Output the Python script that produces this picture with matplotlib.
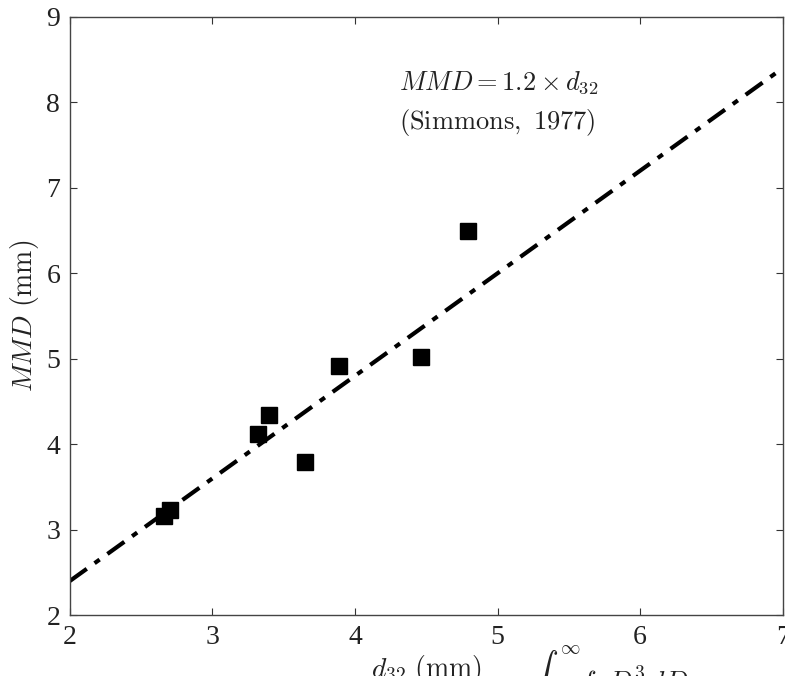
import numpy as np
import matplotlib.pyplot as plt

# measured points (d32 vs MMD, mm)
d32 = [2.66, 2.70, 3.32, 3.40, 3.65, 3.89, 4.46, 4.79]
mmd = [3.16, 3.23, 4.12, 4.34, 3.79, 4.91, 5.02, 6.49]

# correlation line MMD = 1.2 * d32
fit_coef = 1.2
fit_x = [2, 7]

plt.rcParams['font.family'] = ['Liberation Serif', 'DejaVu Serif']
plt.rcParams['mathtext.fontset'] = 'cm'

fig = plt.figure(figsize=(7.85, 6.76), dpi=100)
ax = fig.add_axes([0.089, 0.090, 0.908, 0.885])

fx = np.array(fit_x)
ax.plot(fx, fit_coef * fx, color='black', lw=3, ls=(0, (5, 2.3, 1.5, 2.3)))
ax.plot(d32, mmd, 's', color='black', ms=11)

ax.set_xlim(2, 7)
ax.set_ylim(2, 9)
ax.set_xticks(range(2, 8))
ax.set_yticks(range(2, 10))
ax.tick_params(direction='in', top=True, right=True, length=5, width=0.8,
               labelsize=20, colors='#333333', labelcolor='#222222', pad=7)
for s in ax.spines.values():
    s.set_color('#444444')
    s.set_linewidth(1.0)

ax.text(4.31, 8.23, r'$MMD = 1.2 \times d_{32}$', fontsize=19, va='center', color='#222222')
ax.text(4.31, 7.77, r'$\mathrm{(Simmons,\ 1977)}$', fontsize=19, va='center', color='#222222')

ax.set_ylabel(r'$MMD\ \mathrm{(mm)}$', fontsize=20, color='#222222', labelpad=4)
ax.set_xlabel(r'$d_{32}\ \mathrm{(mm)}$', fontsize=20, color='#222222', labelpad=2)

# fragment of the caption below, cut off by the frame
fig.text(0.675, 0.047, r'$\int_{0}^{\infty} f_v\, D^3\, dD$', fontsize=20, va='top', color='#222222')

fig.savefig('out.png', dpi=100)
